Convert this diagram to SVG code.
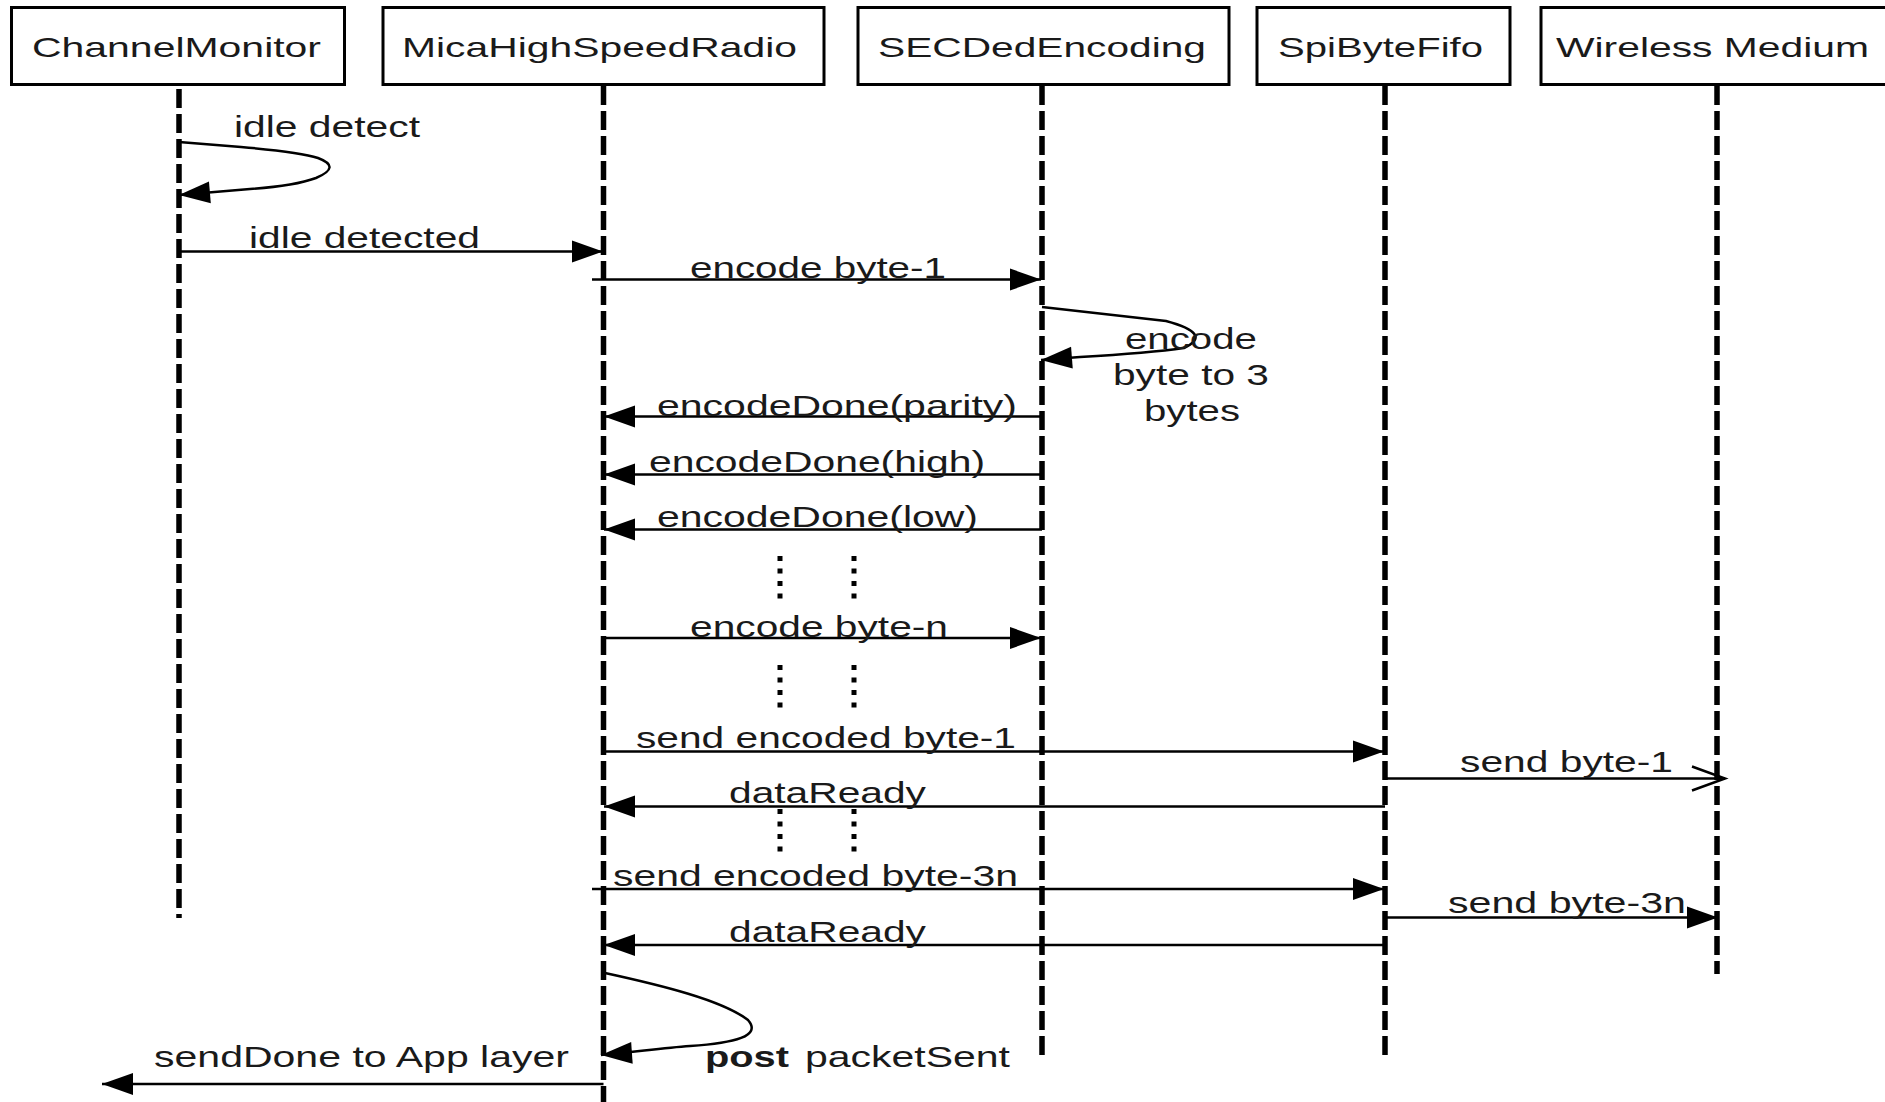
<svg xmlns="http://www.w3.org/2000/svg" width="1885" height="1102" viewBox="0 0 1885 1102">
  <style>
    .box { fill: #fff; stroke: #000; stroke-width: 3; }
    .name { font-family: "Liberation Sans", Arial, sans-serif; font-size: 28px; fill: #1a1a1a; }
    .lbl { font-family: "Liberation Sans", Arial, sans-serif; font-size: 29px; fill: #1a1a1a; }
    .life { stroke: #000; stroke-width: 5.5; stroke-dasharray: 19 6; fill: none; }
    .msg { stroke: #000; stroke-width: 2.5; fill: none; }
    .dots { stroke: #000; stroke-width: 5; stroke-dasharray: 5 7.5; fill: none; }
  </style>
  <defs>
    <marker id="solid" markerUnits="userSpaceOnUse" markerWidth="32" markerHeight="24" refX="31" refY="11" orient="auto" overflow="visible">
      <path d="M0,0 L31,11 L0,22 Z" fill="#000"/>
    </marker>
    <marker id="open" markerUnits="userSpaceOnUse" markerWidth="36" markerHeight="26" refX="33" refY="12" orient="auto" overflow="visible">
      <path d="M0,0 L33,12 L0,24" fill="none" stroke="#000" stroke-width="2.5"/>
    </marker>
  </defs>

  <!-- participants -->
  <g id="channel-monitor">
    <rect class="box" x="11.5" y="7.5" width="333" height="77"/>
    <text class="name" x="32" y="57" textLength="289" lengthAdjust="spacingAndGlyphs">ChannelMonitor</text>
  </g>
  <g id="mica-radio">
    <rect class="box" x="383" y="7.5" width="441" height="77"/>
    <text class="name" x="402" y="57" textLength="395" lengthAdjust="spacingAndGlyphs">MicaHighSpeedRadio</text>
  </g>
  <g id="secded">
    <rect class="box" x="858" y="7.5" width="371" height="77"/>
    <text class="name" x="878" y="57" textLength="328" lengthAdjust="spacingAndGlyphs">SECDedEncoding</text>
  </g>
  <g id="spi-fifo">
    <rect class="box" x="1257" y="7.5" width="253" height="77"/>
    <text class="name" x="1278" y="57" textLength="205" lengthAdjust="spacingAndGlyphs">SpiByteFifo</text>
  </g>
  <g id="wireless">
    <rect class="box" x="1541" y="7.5" width="360" height="77"/>
    <text class="name" x="1556" y="57" textLength="313" lengthAdjust="spacingAndGlyphs">Wireless Medium</text>
  </g>

  <!-- lifelines -->
  <g id="lifelines">
    <line class="life" x1="179" y1="89" x2="179" y2="918"/>
    <line class="life" x1="603.5" y1="86" x2="603.5" y2="1102"/>
    <line class="life" x1="1042" y1="86" x2="1042" y2="1058"/>
    <line class="life" x1="1385" y1="86" x2="1385" y2="1058"/>
    <line class="life" x1="1717" y1="86" x2="1717" y2="974"/>
  </g>

  <!-- messages -->
  <g id="connectors">
    <path class="msg" marker-end="url(#solid)" d="M179,142 L241,147 Q300,152 318,158 Q342,167 316,178 Q294,186 250,189 L179,195"/>
    <line class="msg" marker-end="url(#solid)" x1="179" y1="251.5" x2="603" y2="251.5"/>
    <line class="msg" marker-end="url(#solid)" x1="592" y1="279.5" x2="1041" y2="279.5"/>
    <path class="msg" marker-end="url(#solid)" d="M1042,307 L1166,321 Q1214,334 1184,348 Q1150,353 1080,357 L1041,360"/>
    <line class="msg" marker-end="url(#solid)" x1="1042" y1="416.5" x2="604" y2="416.5"/>
    <line class="msg" marker-end="url(#solid)" x1="1042" y1="474.5" x2="604" y2="474.5"/>
    <line class="msg" marker-end="url(#solid)" x1="1042" y1="529.5" x2="604" y2="529.5"/>
    <line class="msg" marker-end="url(#solid)" x1="603.5" y1="638" x2="1041" y2="638"/>
    <line class="msg" marker-end="url(#solid)" x1="603.5" y1="751.5" x2="1384" y2="751.5"/>
    <line class="msg" marker-end="url(#open)" x1="1385" y1="778.5" x2="1725" y2="778.5"/>
    <line class="msg" marker-end="url(#solid)" x1="1385" y1="806.5" x2="604" y2="806.5"/>
    <line class="msg" marker-end="url(#solid)" x1="592" y1="889" x2="1384" y2="889"/>
    <line class="msg" marker-end="url(#solid)" x1="1385" y1="917.5" x2="1718" y2="917.5"/>
    <line class="msg" marker-end="url(#solid)" x1="1385" y1="945" x2="604" y2="945"/>
    <path class="msg" marker-end="url(#solid)" d="M605,973 C660,985 722,1000 748,1020 C762,1036 735,1043 690,1046 C660,1048 630,1053 601,1055"/>
    <line class="msg" marker-end="url(#solid)" x1="603.5" y1="1084" x2="102" y2="1084"/>

    <!-- continuation marks -->
    <line class="dots" x1="780" y1="556" x2="780" y2="600"/>
    <line class="dots" x1="854" y1="556" x2="854" y2="600"/>
    <line class="dots" x1="780" y1="665" x2="780" y2="712"/>
    <line class="dots" x1="854" y1="665" x2="854" y2="712"/>
    <line class="dots" x1="780" y1="809" x2="780" y2="856"/>
    <line class="dots" x1="854" y1="809" x2="854" y2="856"/>
  </g>

  <!-- message labels -->
  <g id="labels">
    <text class="lbl" x="234" y="136.5" textLength="186" lengthAdjust="spacingAndGlyphs">idle detect</text>
    <text class="lbl" x="249" y="248" textLength="231" lengthAdjust="spacingAndGlyphs">idle detected</text>
    <text class="lbl" x="690" y="277.5" textLength="256" lengthAdjust="spacingAndGlyphs">encode byte-1</text>
    <text class="lbl" x="1125" y="348.5" textLength="132" lengthAdjust="spacingAndGlyphs">encode</text>
    <text class="lbl" x="1113" y="384.5" textLength="156" lengthAdjust="spacingAndGlyphs">byte to 3</text>
    <text class="lbl" x="1144" y="421" textLength="96" lengthAdjust="spacingAndGlyphs">bytes</text>
    <text class="lbl" x="657" y="415.5" textLength="360" lengthAdjust="spacingAndGlyphs">encodeDone(parity)</text>
    <text class="lbl" x="649" y="471.5" textLength="336" lengthAdjust="spacingAndGlyphs">encodeDone(high)</text>
    <text class="lbl" x="657" y="526.5" textLength="321" lengthAdjust="spacingAndGlyphs">encodeDone(low)</text>
    <text class="lbl" x="690" y="636.5" textLength="258" lengthAdjust="spacingAndGlyphs">encode byte-n</text>
    <text class="lbl" x="636" y="747.5" textLength="380" lengthAdjust="spacingAndGlyphs">send encoded byte-1</text>
    <text class="lbl" x="1460" y="772" textLength="213" lengthAdjust="spacingAndGlyphs">send byte-1</text>
    <text class="lbl" x="729" y="802.5" textLength="197" lengthAdjust="spacingAndGlyphs">dataReady</text>
    <text class="lbl" x="613" y="886" textLength="405" lengthAdjust="spacingAndGlyphs">send encoded byte-3n</text>
    <text class="lbl" x="1448" y="912.5" textLength="238" lengthAdjust="spacingAndGlyphs">send byte-3n</text>
    <text class="lbl" x="729" y="941.5" textLength="197" lengthAdjust="spacingAndGlyphs">dataReady</text>
    <text class="lbl" x="154" y="1067" textLength="415" lengthAdjust="spacingAndGlyphs">sendDone to App layer</text>
    <text class="lbl" x="705" y="1067" textLength="84" lengthAdjust="spacingAndGlyphs" font-weight="bold">post</text>
    <text class="lbl" x="805" y="1067" textLength="205" lengthAdjust="spacingAndGlyphs">packetSent</text>
  </g>
</svg>
